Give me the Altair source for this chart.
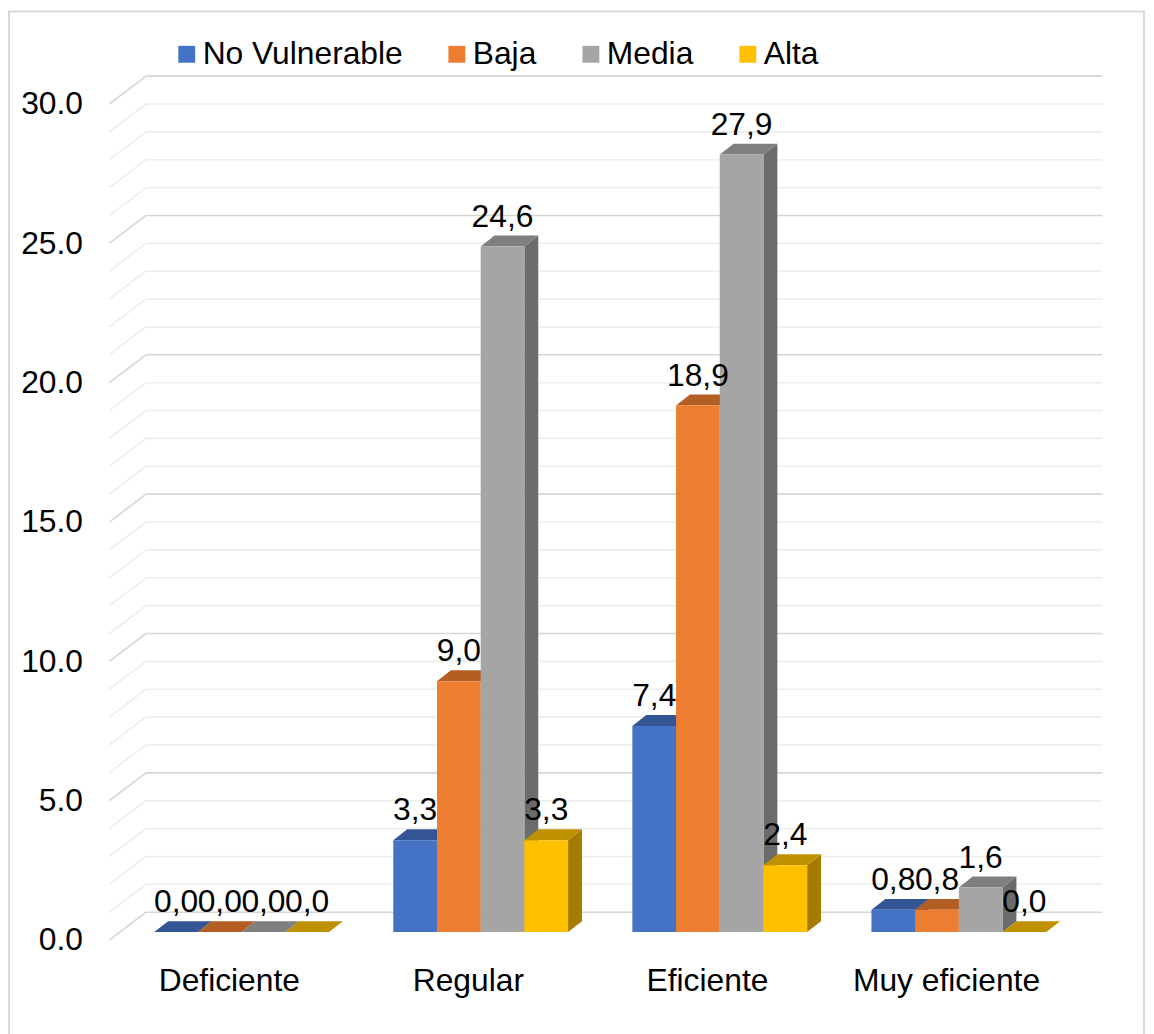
import altair as alt
import pandas as pd

# ---- data ----
categories = ["Deficiente", "Regular", "Eficiente", "Muy eficiente"]
series = ["No Vulnerable", "Baja", "Media", "Alta"]
no_vulnerable = [0.0, 3.3, 7.4, 0.8]
baja = [0.0, 9.0, 18.9, 0.8]
media = [0.0, 24.6, 27.9, 1.6]
alta = [0.0, 3.3, 2.4, 0.0]
y_ticks = [0, 5, 10, 15, 20, 25, 30]

# ---- style ----
front_colors = ["#4472C4", "#ED7D31", "#A5A5A5", "#FFC000"]
top_colors = ["#335594", "#B45E23", "#7F7F7F", "#BF9000"]
side_colors = ["#2E4F8A", "#A55520", "#6B6B6B", "#A67C00"]
FONT = "Liberation Sans"
FS = 32

DX = 37 / 240.75      # wall depth in category units
DY = 1.0              # wall depth in value units
W = 44 / 240.75       # bar width in category units
SX = 0.0535           # bar front x shift (depth)
BASE = 0.285          # bar front base (depth)
TX = 14 / 240.75      # bar depth x
TY = 0.392            # bar depth y

values = [no_vulnerable, baja, media, alta]

fronts, tops, sides, labels = [], [], [], []
for i, cat in enumerate(categories):
    for j, s in enumerate(series):
        v = values[j][i]
        L = i + 0.5 - 2 * W + j * W + SX
        R = L + W
        top = BASE + v
        bid = f"{i}-{j}"
        fronts.append(dict(series=s, x=L, x2=R, y=BASE, y2=top, bid=bid))
        tops.append(dict(bid=bid, fc=top_colors[j], ty=top, tl=L, tr=R))
        tops.append(dict(bid=bid, fc=top_colors[j], ty=top + TY, tl=L + TX, tr=R + TX))
        sides.append(dict(bid=bid, fc=side_colors[j], sx=R, sb=BASE, st=top))
        sides.append(dict(bid=bid, fc=side_colors[j], sx=R + TX, sb=BASE + TY, st=top + TY))
        labels.append(dict(x=(L + R) / 2, y=top + TY, t=f"{v:.1f}".replace(".", ",")))

fronts = pd.DataFrame(fronts)
tops = pd.DataFrame(tops)
sides = pd.DataFrame(sides)
labels = pd.DataFrame(labels)

grid_rows = []
for v in range(0, 31):
    major = v % 5 == 0
    grid_rows.append(dict(v=v, vb=v + DY, x0=0.0, xb=DX, xe=4 + DX,
                          c="#D6D6D6" if major else "#EDEDED"))
grid = pd.DataFrame(grid_rows)

xs = alt.Scale(domain=[0, 4 + DX], nice=False, zero=False)
ys = alt.Scale(domain=[0, 31], nice=False, zero=False)

back_lines = alt.Chart(grid).mark_rule(strokeWidth=1.6).encode(
    x=alt.X("xb:Q", scale=xs, axis=alt.Axis(
        values=[0.5, 1.5, 2.5, 3.5],
        labelExpr="['Deficiente','Regular','Eficiente','Muy eficiente'][floor(datum.value)]",
        labelFontSize=FS, labelFont=FONT, labelColor="black", labelPadding=26,
        domain=False, ticks=False, grid=False, title=None, labelFlush=False,
        labelLimit=500)),
    x2="xe:Q",
    y=alt.Y("vb:Q", scale=ys, axis=alt.Axis(
        values=y_ticks, format=".1f", labelFontSize=FS, labelFont=FONT,
        labelColor="black", labelPadding=27, domain=False, ticks=False,
        grid=False, title=None)),
    stroke=alt.Stroke("c:N", scale=None),
)

diag_lines = alt.Chart(grid).mark_rule(strokeWidth=1.6).encode(
    x=alt.X("x0:Q", scale=xs),
    x2="xb:Q",
    y=alt.Y("v:Q", scale=ys),
    y2="vb:Q",
    stroke=alt.Stroke("c:N", scale=None),
)

side_layer = alt.Chart(sides).mark_area(orient="vertical", opacity=1).encode(
    x=alt.X("sx:Q", scale=xs),
    y=alt.Y("sb:Q", scale=ys, stack=None),
    y2="st:Q",
    detail="bid:N",
    fill=alt.Fill("fc:N", scale=None),
)

top_layer = alt.Chart(tops).mark_area(orient="horizontal", opacity=1).encode(
    y=alt.Y("ty:Q", scale=ys),
    x=alt.X("tl:Q", scale=xs, stack=None),
    x2="tr:Q",
    detail="bid:N",
    fill=alt.Fill("fc:N", scale=None),
)

front_layer = alt.Chart(fronts).mark_rect().encode(
    x=alt.X("x:Q", scale=xs),
    x2="x2:Q",
    y=alt.Y("y:Q", scale=ys),
    y2="y2:Q",
    color=alt.Color("series:N", scale=alt.Scale(domain=series, range=front_colors),
                    legend=alt.Legend(
                        title=None, orient="none", direction="horizontal",
                        legendX=62, legendY=-38, symbolType="square",
                        symbolSize=289, symbolStrokeWidth=0, labelFontSize=FS,
                        labelFont=FONT, labelColor="black", labelOffset=0,
                        columnPadding=38, symbolOpacity=1, labelLimit=500)),
)

label_layer = alt.Chart(labels).mark_text(
    baseline="alphabetic", align="center", dy=-9, fontSize=FS, font=FONT, color="black"
).encode(
    x=alt.X("x:Q", scale=xs),
    y=alt.Y("y:Q", scale=ys),
    text="t:N",
)

border = alt.Chart(pd.DataFrame({"a": [0]})).mark_rect(
    fillOpacity=0, stroke="#D9D9D9", strokeWidth=2
).encode(
    x=alt.value(-101), x2=alt.value(1042), y=alt.value(-65), y2=alt.value(980)
)

chart = alt.layer(
    border, back_lines, diag_lines, side_layer, top_layer, front_layer, label_layer
).properties(
    width=1000, height=870,
    autosize=alt.AutoSizeParams(type="none"),
    padding={"left": 102, "top": 65, "right": 44, "bottom": 91},
).configure_view(stroke=None)

chart.save("out.html", embed_options={"renderer": "svg", "actions": False})
